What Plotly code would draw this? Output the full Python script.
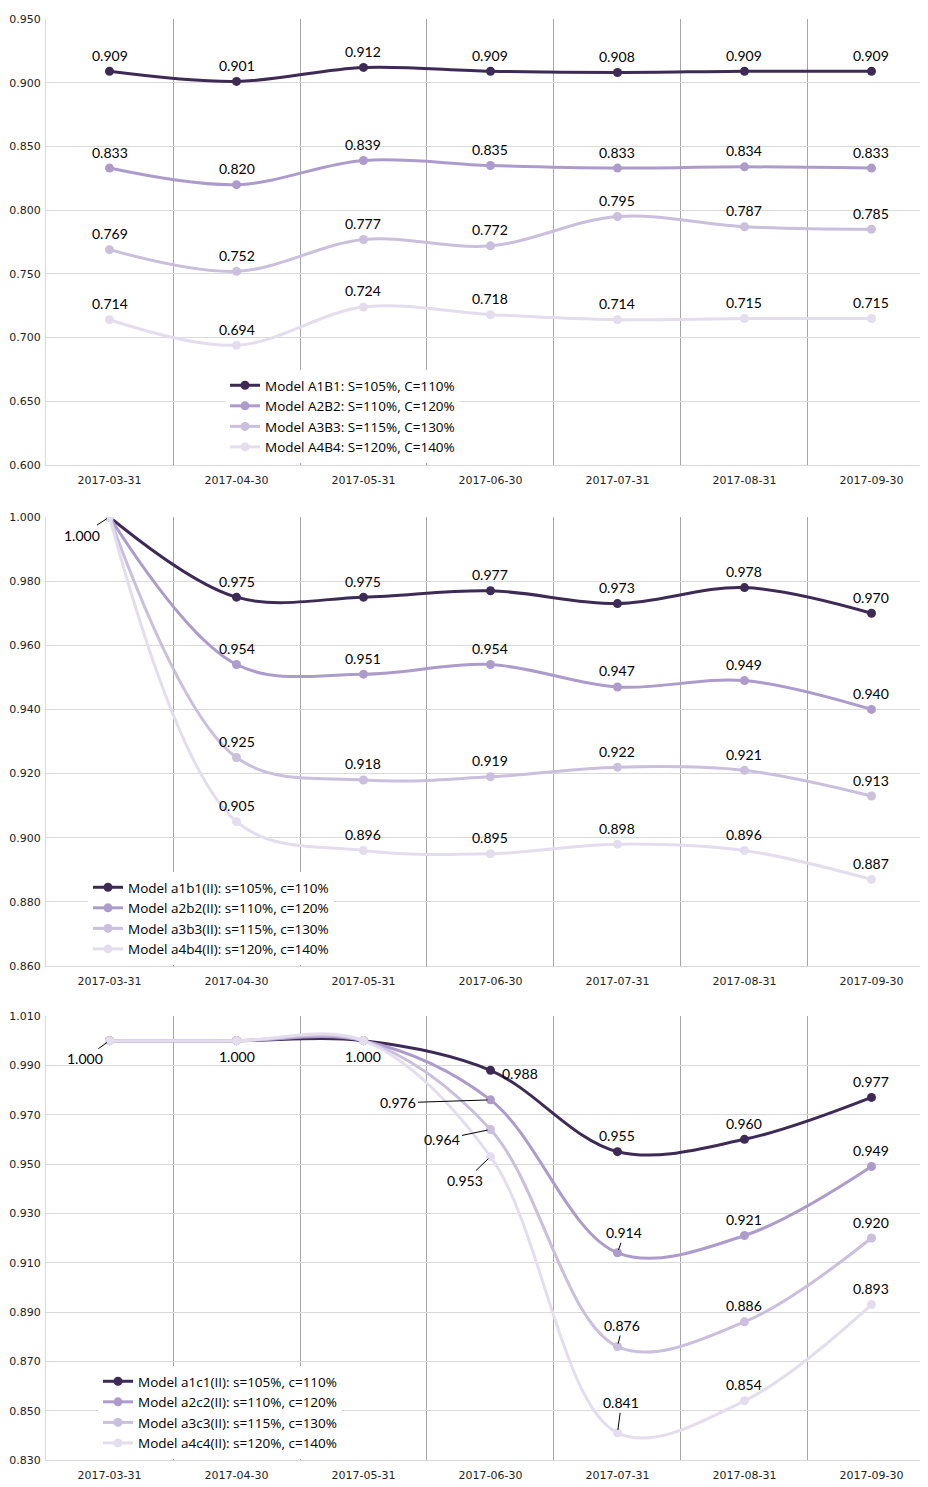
import plotly.graph_objects as go

dates = ["2017-03-31", "2017-04-30", "2017-05-31", "2017-06-30", "2017-07-31", "2017-08-31", "2017-09-30"]

names1 = ["Model A1B1: S=105%, C=110%", "Model A2B2: S=110%, C=120%",
          "Model A3B3: S=115%, C=130%", "Model A4B4: S=120%, C=140%"]
a1b1 = [0.909, 0.901, 0.912, 0.909, 0.908, 0.909, 0.909]
a2b2 = [0.833, 0.820, 0.839, 0.835, 0.833, 0.834, 0.833]
a3b3 = [0.769, 0.752, 0.777, 0.772, 0.795, 0.787, 0.785]
a4b4 = [0.714, 0.694, 0.724, 0.718, 0.714, 0.715, 0.715]

names2 = ["Model a1b1(II): s=105%, c=110%", "Model a2b2(II): s=110%, c=120%",
          "Model a3b3(II): s=115%, c=130%", "Model a4b4(II): s=120%, c=140%"]
b1 = [1.000, 0.975, 0.975, 0.977, 0.973, 0.978, 0.970]
b2 = [1.000, 0.954, 0.951, 0.954, 0.947, 0.949, 0.940]
b3 = [1.000, 0.925, 0.918, 0.919, 0.922, 0.921, 0.913]
b4 = [1.000, 0.905, 0.896, 0.895, 0.898, 0.896, 0.887]

names3 = ["Model a1c1(II): s=105%, c=110%", "Model a2c2(II): s=110%, c=120%",
          "Model a3c3(II): s=115%, c=130%", "Model a4c4(II): s=120%, c=140%"]
c1 = [1.000, 1.000, 1.000, 0.988, 0.955, 0.960, 0.977]
c2 = [1.000, 1.000, 1.000, 0.976, 0.914, 0.921, 0.949]
c3 = [1.000, 1.000, 1.000, 0.964, 0.876, 0.886, 0.920]
c4 = [1.000, 1.000, 1.000, 0.953, 0.841, 0.854, 0.893]

colors = ["#3d2b55", "#ad9ccb", "#cabfdd", "#e4ddee"]

O = 8            # page body margin
W = 928 - O
H = 1487 - O
L = 46 - O
panels = [
    dict(names=names1, data=[a1b1, a2b2, a3b3, a4b4], yr=[0.600, 0.950], dt=0.05, top=19, bot=465,
         leg=dict(x=225, y=370)),
    dict(names=names2, data=[b1, b2, b3, b4], yr=[0.860, 1.000], dt=0.02, top=517, bot=966,
         leg=dict(x=88, y=872)),
    dict(names=names3, data=[c1, c2, c3, c4], yr=[0.830, 1.010], dt=0.02, top=1016, bot=1460,
         leg=dict(x=98, y=1366)),
]

# label placement: (panel, series, idx) -> None (hidden) or (dx, dy, arrow)
special = {
    (1, 0, 0): (-28, 18, True), (1, 1, 0): None, (1, 2, 0): None, (1, 3, 0): None,
    (2, 0, 0): (-25, 18, True), (2, 1, 0): None, (2, 2, 0): None, (2, 3, 0): None,
    (2, 0, 1): (0, -16, False), (2, 0, 2): (0, -16, False),
    (2, 1, 1): None, (2, 2, 1): None, (2, 3, 1): None,
    (2, 1, 2): None, (2, 2, 2): None, (2, 3, 2): None,
    (2, 0, 3): (30, -3, False),
    (2, 1, 3): (-92, 3, True),
    (2, 2, 3): (-48, 10, True),
    (2, 3, 3): (-25, 24, True),
    (2, 1, 4): (7, -20, True),
    (2, 2, 4): (5, -21, True),
    (2, 3, 4): (4, -30, True),
}

fig = go.Figure()
annotations = []
for p, pan in enumerate(panels):
    ax_s = "" if p == 0 else str(p + 1)
    leg = "legend" if p == 0 else "legend" + str(p + 1)
    for s, (nm, vals) in enumerate(zip(pan["names"], pan["data"])):
        fig.add_trace(go.Scatter(
            x=dates, y=vals, name=nm, mode="lines+markers",
            line=dict(color=colors[s], width=3, shape="spline", smoothing=1.0),
            marker=dict(color=colors[s], size=9),
            xaxis="x" + ax_s, yaxis="y" + ax_s, legend=leg, showlegend=True,
        ))
        for i, v in enumerate(vals):
            key = (p, s, i)
            if key in special:
                spec = special[key]
                if spec is None:
                    continue
                dx, dy, arrow = spec
            else:
                dx, dy, arrow = 0, 16, False
            base = dict(x=dates[i], y=v, xref="x" + ax_s, yref="y" + ax_s,
                        text=f"{v:.3f}", font=dict(family="Lato, Open Sans, sans-serif", size=14, color="#000"))
            if arrow:
                base.update(showarrow=True, ax=dx, ay=dy, arrowhead=0, arrowwidth=1,
                            arrowcolor="#000", standoff=3)
            else:
                base.update(showarrow=False, xshift=dx, yshift=dy)
            annotations.append(base)

    top, bot = pan["top"] - O, pan["bot"] - O
    dom = [(H - bot) / H, (H - top) / H]
    n = int(round((pan["yr"][1] - pan["yr"][0]) / pan["dt"]))
    tv = [round(pan["yr"][0] + k * pan["dt"], 3) for k in range(n + 1)]
    fig.update_layout(**{
        "xaxis" + ax_s: dict(
            domain=[0, 1], anchor="y" + ax_s, type="category", range=[-0.5, 6.445],
            tickson="boundaries", showgrid=True, gridcolor="#a6a6a6", gridwidth=1,
            showline=True, linecolor="#d9d9d9", linewidth=1, ticks="",
            tickfont=dict(family="DejaVu Sans, sans-serif", size=11, color="#222"),
            ticklabelstandoff=5, automargin=False,
        ),
        "yaxis" + ax_s: dict(
            domain=dom, anchor="x" + ax_s, range=pan["yr"], tickvals=tv,
            ticktext=[f"{t:.3f}" for t in tv], showgrid=True, gridcolor="#d9d9d9",
            showline=True, linecolor="#d9d9d9", zeroline=False, ticks="",
            tickfont=dict(family="DejaVu Sans, sans-serif", size=11, color="#222"),
            ticklabelstandoff=2, automargin=False,
        ),
        leg: dict(
            x=(pan["leg"]["x"] - O - L) / (W - L), y=(H - (pan["leg"]["y"] - O)) / H,
            xanchor="left", yanchor="top", bgcolor="white", borderwidth=0,
            font=dict(family="Open Sans, Lato, sans-serif", size=13.5, color="#000"),
            itemwidth=30, tracegroupgap=0,
        ),
    })

fig.update_layout(
    width=W, height=H, margin=dict(l=L, r=0, t=0, b=0, autoexpand=False),
    plot_bgcolor="white", paper_bgcolor="white",
    annotations=annotations,
)

fig.write_html("out.html")
